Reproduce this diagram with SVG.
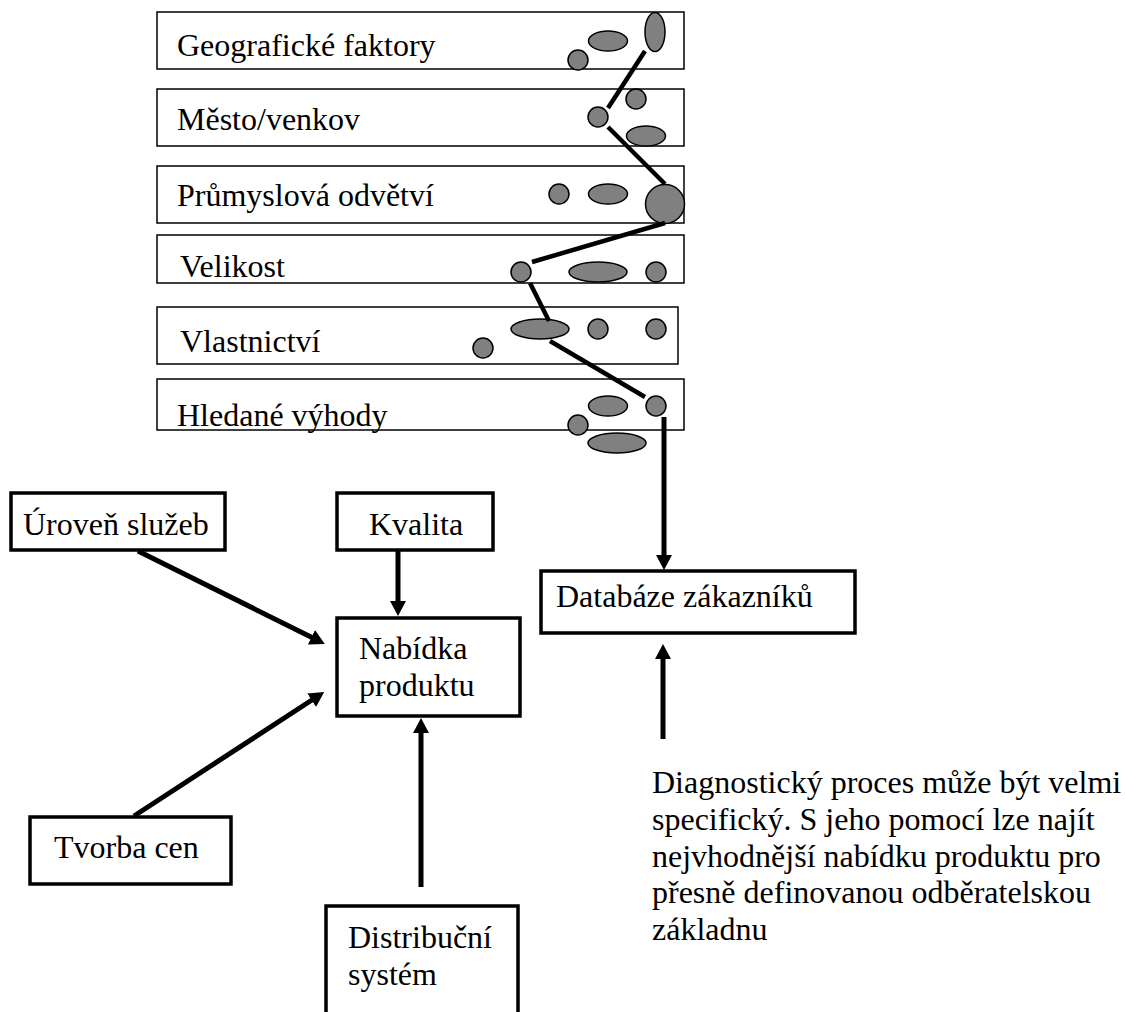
<svg xmlns="http://www.w3.org/2000/svg" width="1126" height="1012" viewBox="0 0 1126 1012">
  <style>
    text { font-family: "Liberation Serif", "Times New Roman", "DejaVu Serif", serif; font-size: 32px; fill: #000; }
    .seg { fill: #fff; stroke: #000; stroke-width: 1.5; }
    .box { fill: #fff; stroke: #000; stroke-width: 3.5; }
    .dot { fill: #808080; stroke: #000; stroke-width: 1.5; }
    .path { stroke: #000; stroke-width: 4.5; fill: none; }
    .arrow { stroke: #000; stroke-width: 5; fill: none; marker-end: url(#head); }
  </style>
  <defs>
    <marker id="head" markerUnits="userSpaceOnUse" markerWidth="18" markerHeight="18" refX="4" refY="8" orient="auto">
      <path d="M0,0 L15,8 L0,16 z" fill="#000"/>
    </marker>
  </defs>

  <rect width="1126" height="1012" fill="#fff"/>

  <!-- segmentation criteria -->
  <g id="geograficke-faktory">
    <rect class="seg" x="157" y="12" width="527" height="57"/>
    <text x="177" y="56">Geografické faktory</text>
    <circle class="dot" cx="578" cy="60" r="10"/>
    <ellipse class="dot" cx="608" cy="41" rx="19.5" ry="10"/>
    <ellipse class="dot" cx="655" cy="32" rx="10" ry="19.5"/>
  </g>
  <g id="mesto-venkov">
    <rect class="seg" x="157" y="89" width="527" height="57"/>
    <text x="177" y="130">Město/venkov</text>
    <circle class="dot" cx="636" cy="99" r="10"/>
    <circle class="dot" cx="598" cy="117" r="10"/>
    <ellipse class="dot" cx="646" cy="136" rx="19.5" ry="10"/>
  </g>
  <g id="prumyslova-odvetvi">
    <rect class="seg" x="157" y="166" width="527" height="57"/>
    <text x="177" y="206">Průmyslová odvětví</text>
    <circle class="dot" cx="559" cy="194" r="10"/>
    <ellipse class="dot" cx="608" cy="194" rx="19.5" ry="10"/>
    <circle class="dot" cx="665" cy="204" r="19.5"/>
  </g>
  <g id="velikost">
    <rect class="seg" x="157" y="235" width="527" height="48"/>
    <text x="180" y="277">Velikost</text>
    <circle class="dot" cx="521" cy="272" r="10"/>
    <ellipse class="dot" cx="598" cy="272" rx="29" ry="10"/>
    <circle class="dot" cx="656" cy="272" r="10"/>
  </g>
  <g id="vlastnictvi">
    <rect class="seg" x="157" y="307" width="521" height="57"/>
    <text x="180" y="352">Vlastnictví</text>
    <ellipse class="dot" cx="540" cy="329" rx="29" ry="10"/>
    <circle class="dot" cx="598" cy="329" r="10"/>
    <circle class="dot" cx="656" cy="329" r="10"/>
    <circle class="dot" cx="483" cy="348" r="10"/>
  </g>
  <g id="hledane-vyhody">
    <rect class="seg" x="157" y="379" width="527" height="51"/>
    <text x="177" y="426">Hledané výhody</text>
    <circle class="dot" cx="656" cy="406" r="10"/>
    <ellipse class="dot" cx="608" cy="406" rx="19.5" ry="10"/>
    <circle class="dot" cx="578" cy="425" r="10"/>
    <ellipse class="dot" cx="617" cy="443" rx="29" ry="10"/>
  </g>

  <!-- offer side -->
  <g id="uroven-sluzeb">
    <rect class="box" x="11" y="493" width="214" height="57"/>
    <text x="23" y="535">Úroveň služeb</text>
  </g>
  <g id="kvalita">
    <rect class="box" x="337" y="493" width="156" height="57"/>
    <text x="369" y="535">Kvalita</text>
  </g>
  <g id="nabidka-produktu">
    <rect class="box" x="337" y="618" width="183" height="98"/>
    <text x="359" y="659">Nabídka</text>
    <text x="359" y="696">produktu</text>
  </g>
  <g id="tvorba-cen">
    <rect class="box" x="30" y="817" width="201" height="67"/>
    <text x="54" y="858">Tvorba cen</text>
  </g>
  <g id="distribucni-system">
    <rect class="box" x="326" y="906" width="192" height="112"/>
    <text x="348" y="948">Distribuční</text>
    <text x="348" y="985">systém</text>
  </g>

  <!-- customer side -->
  <g id="databaze-zakazniku">
    <rect class="box" x="541" y="571" width="314" height="62"/>
    <text x="556" y="607">Databáze zákazníků</text>
  </g>
  <g id="poznamka">
    <text x="652" y="793">Diagnostický proces může být velmi</text>
    <text x="652" y="830">specifický. S jeho pomocí lze najít</text>
    <text x="652" y="867">nejvhodnější nabídku produktu pro</text>
    <text x="652" y="903">přesně definovanou odběratelskou</text>
    <text x="652" y="940">základnu</text>
  </g>

  <!-- connectors -->
  <g id="connectors">
    <polyline class="path" points="645,51 608,108"/>
    <polyline class="path" points="608,127 665,184"/>
    <polyline class="path" points="665,223 532,262"/>
    <polyline class="path" points="530,283 549,321"/>
    <polyline class="path" points="550,341 645,397"/>
    <line class="arrow" x1="664" y1="417" x2="664" y2="559"/>
    <line class="arrow" x1="663" y1="739" x2="663" y2="655"/>
    <line class="arrow" x1="138" y1="551" x2="315" y2="639"/>
    <line class="arrow" x1="398" y1="551" x2="398" y2="605"/>
    <line class="arrow" x1="134" y1="816" x2="315" y2="698"/>
    <line class="arrow" x1="421" y1="887" x2="421" y2="729"/>
  </g>
</svg>
